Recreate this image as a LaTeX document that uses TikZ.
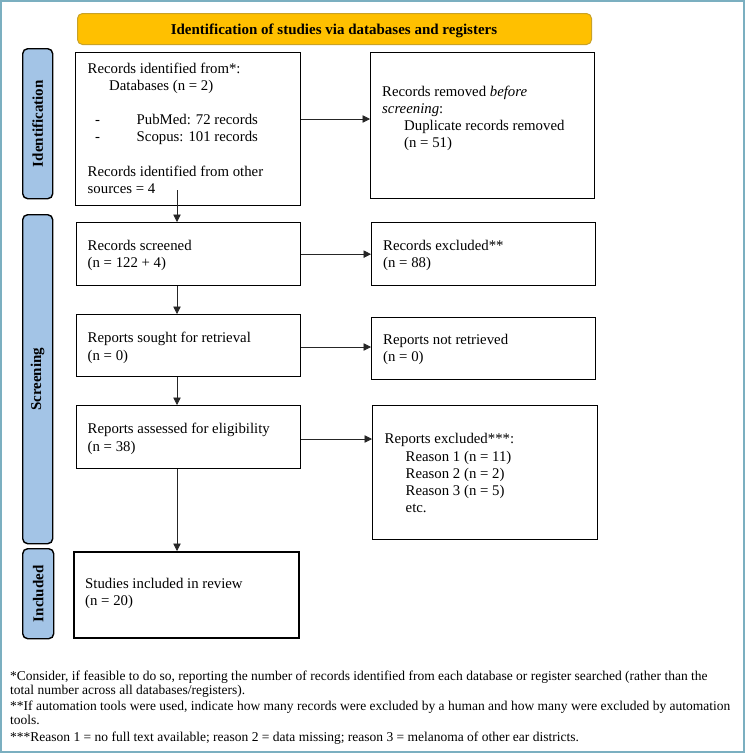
\documentclass[tikz,border=0pt]{standalone}
\usepackage{fontspec}
\setmainfont{Liberation Serif}
\usetikzlibrary{arrows.meta}
\definecolor{frameteal}{HTML}{7BAFC0}
\definecolor{headyellow}{HTML}{FFC000}
\definecolor{headborder}{HTML}{C9A227}
\definecolor{sideblue}{HTML}{A3C4E6}
\begin{document}
\begin{tikzpicture}[x=1pt,y=-1pt,
  boxn/.style={draw=black, line width=1.3pt, fill=white, anchor=north west, inner sep=0pt},
  txt/.style={anchor=base west, inner sep=0pt, font=\fontsize{14.8}{17}\selectfont},
  foot/.style={anchor=base west, inner sep=0pt, font=\fontsize{13.5}{15}\selectfont},
  arr/.style={draw=black!85, line width=0.8pt, -{Triangle[length=7.5pt,width=7.5pt]}},
  sidebar/.style={draw=black, line width=1.4pt, fill=sideblue, rounded corners=5pt, anchor=north west, inner sep=0pt},
  sidelbl/.style={rotate=90, inner sep=0pt, font=\bfseries\fontsize{15}{17}\selectfont}]
\useasboundingbox (0,0) rectangle (745,753);
\draw[frameteal, line width=2pt] (1,1) rectangle (744,752);

% header
\node[draw=headborder, line width=1pt, fill=headyellow, rounded corners=5pt, anchor=north west,
  minimum width=514pt, minimum height=31pt, inner sep=0pt] (head) at (77,13) {};
\node[anchor=base, inner sep=0pt, font=\bfseries\fontsize{15}{17}\selectfont] (headt) at (334,34)
  {Identification of studies via databases and registers};

% side bars
\node[sidebar, minimum width=30pt, minimum height=150pt] (s1) at (22,48) {};
\node[sidelbl] (s1t) at (s1.center) {Identification};
\node[sidebar, minimum width=30pt, minimum height=329pt] (s2) at (22,214) {};
\node[sidelbl] (s2t) at (s2.center) {Screening};
\node[sidebar, minimum width=31pt, minimum height=90pt] (s3) at (22,548) {};
\node[sidelbl] (s3t) at (s3.center) {Included};

% boxes
\node[boxn, minimum width=225pt, minimum height=153pt] (b1) at (75,52) {};
\node[boxn, minimum width=224pt, minimum height=146pt] (b2) at (370,52) {};
\node[boxn, minimum width=224pt, minimum height=63pt] (b3) at (76,222) {};
\node[boxn, minimum width=224pt, minimum height=63pt] (b4) at (371,222) {};
\node[boxn, minimum width=224pt, minimum height=62pt] (b5) at (76,314) {};
\node[boxn, minimum width=224pt, minimum height=62pt] (b6) at (371,317) {};
\node[boxn, minimum width=224pt, minimum height=63pt] (b7) at (76,405) {};
\node[boxn, minimum width=225pt, minimum height=134pt] (b8) at (372,405) {};
\node[boxn, line width=1.8pt, minimum width=225pt, minimum height=86pt] (b9) at (73,551) {};

% box texts
\node[txt] (t1a) at (87.5,73) {Records identified from*:};
\node[txt] (t1b) at (109,90) {Databases (n = 2)};
\node[txt] (t1c) at (95,124) {-};
\node[txt] (t1d) at (136.5,124) {PubMed: 72 records};
\node[txt] (t1e) at (95,141) {-};
\node[txt] (t1f) at (136.5,141) {Scopus: 101 records};
\node[txt] (t1g) at (87.5,176.5) {Records identified from other};
\node[txt] (t1h) at (87.5,193.5) {sources = 4};

\node[txt] (t2a) at (382,96) {Records removed \textit{before}};
\node[txt] (t2b) at (382,113) {\textit{screening}:};
\node[txt] (t2c) at (404,130.5) {Duplicate records removed};
\node[txt] (t2d) at (404,147.5) {(n = 51)};

\node[txt] (t3a) at (87.5,250) {Records screened};
\node[txt] (t3b) at (87.5,267) {(n = 122 + 4)};
\node[txt] (t4a) at (383,250) {Records excluded**};
\node[txt] (t4b) at (383,267) {(n = 88)};

\node[txt] (t5a) at (87.5,342.5) {Reports sought for retrieval};
\node[txt] (t5b) at (87.5,360) {(n = 0)};
\node[txt] (t6a) at (383,344.5) {Reports not retrieved};
\node[txt] (t6b) at (383,361.5) {(n = 0)};

\node[txt] (t7a) at (87.5,433.5) {Reports assessed for eligibility};
\node[txt] (t7b) at (87.5,451) {(n = 38)};
\node[txt] (t8a) at (384.5,443.5) {Reports excluded***:};
\node[txt] (t8b) at (405.5,461) {Reason 1 (n = 11)};
\node[txt] (t8c) at (405.5,478) {Reason 2 (n = 2)};
\node[txt] (t8d) at (405.5,495) {Reason 3 (n = 5)};
\node[txt] (t8e) at (405.5,512) {etc.};

\node[txt] (t9a) at (85,588.5) {Studies included in review};
\node[txt] (t9b) at (85,605.5) {(n = 20)};

% arrows
\coordinate (y1) at (0,119);
\coordinate (y3) at (0,347);
\coordinate (y4) at (0,439);
\coordinate (v0) at (177,190);
\draw[arr] (b1.east |- y1) -- (b2.west |- y1);
\draw[arr] (b3.east) -- (b4.west);
\draw[arr] (b5.east |- y3) -- (b6.west |- y3);
\draw[arr] (b7.east |- y4) -- (b8.west |- y4);
\draw[arr] (v0) -- (v0 |- b3.north);
\draw[arr] (v0 |- b3.south) -- (v0 |- b5.north);
\draw[arr] (v0 |- b5.south) -- (v0 |- b7.north);
\draw[arr] (v0 |- b7.south) -- (v0 |- b9.north);

% footnotes
\node[foot] (f1) at (10,680) {*Consider, if feasible to do so, reporting the number of records identified from each database or register searched (rather than the};
\node[foot] (f2) at (10,694.5) {total number across all databases/registers).};
\node[foot] (f3) at (10,710) {**If automation tools were used, indicate how many records were excluded by a human and how many were excluded by automation};
\node[foot] (f4) at (10,724.5) {tools.};
\node[foot] (f5) at (10,741) {***Reason 1 = no full text available; reason 2 = data missing; reason 3 = melanoma of other ear districts.};
\end{tikzpicture}
\end{document}
